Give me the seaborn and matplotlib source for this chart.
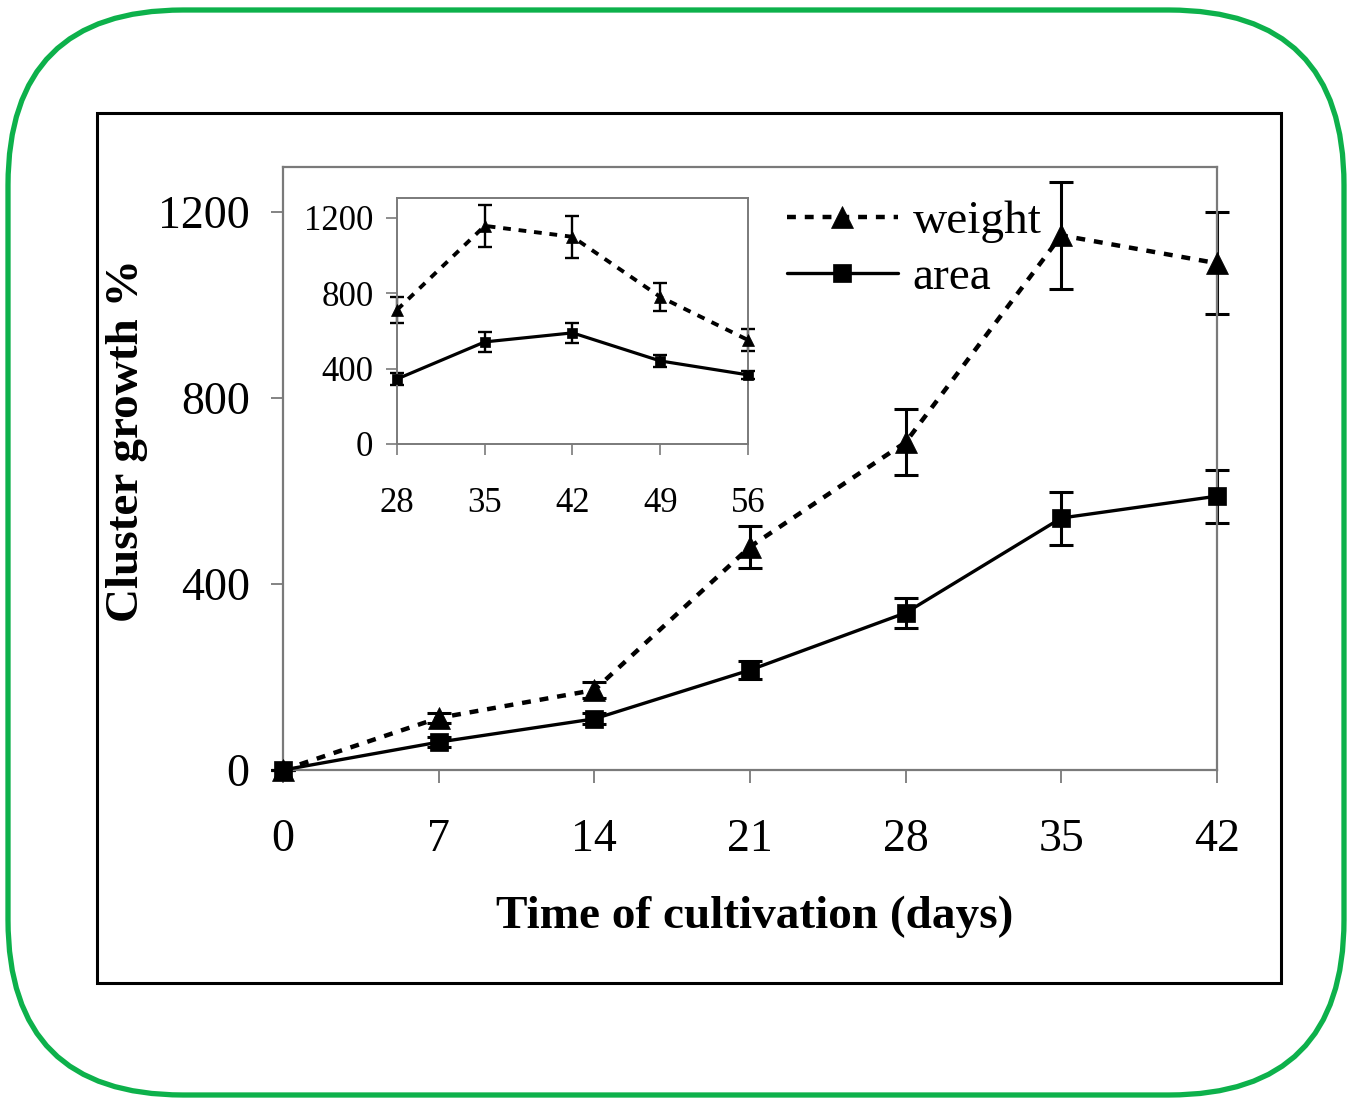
import numpy as np
import pandas as pd
import seaborn as sns
import matplotlib
matplotlib.use("Agg")
import matplotlib.pyplot as plt
from matplotlib.patches import FancyBboxPatch, Rectangle

# ---------------- data ----------------
days = [0, 7, 14, 21, 28, 35, 42]
weight = [0, 112, 172, 480, 705, 1150, 1090]
weight_err = [0, 10, 18, 45, 71, 115, 110]
area = [0, 60, 110, 215, 338, 542, 589]
area_err = [0, 10, 12, 20, 32, 57, 57]

inset_days = [28, 35, 42, 49, 56]
inset_weight = [712, 1158, 1100, 781, 552]
inset_weight_err = [70, 112, 110, 75, 58]
inset_area = [345, 542, 590, 441, 367]
inset_area_err = [30, 55, 55, 30, 22]

x_ticks = [0, 7, 14, 21, 28, 35, 42]
y_ticks = [0, 400, 800, 1200]
inset_x_ticks = [28, 35, 42, 49, 56]
inset_y_ticks = [0, 400, 800, 1200]

xlabel = "Time of cultivation (days)"
ylabel = "Cluster growth %"
series_names = ["weight", "area"]

# ---------------- style ----------------
sns.set_style("white")
plt.rcParams["font.family"] = ["Liberation Serif", "DejaVu Serif"]
plt.rcParams["text.color"] = "black"
plt.rcParams["axes.labelcolor"] = "black"
plt.rcParams["xtick.color"] = "black"
plt.rcParams["ytick.color"] = "black"

W, H, DPI = 1348, 1099, 100
fig = plt.figure(figsize=(W / DPI, H / DPI), dpi=DPI)

# green rounded frame
fig.patches.append(FancyBboxPatch((8 / DPI, 4 / DPI), (1344 - 8) / DPI, (1095 - 10) / DPI,
                                  boxstyle="round,pad=0,rounding_size=1.75",
                                  transform=fig.dpi_scale_trans, fill=False,
                                  ec="#0DB14B", lw=3.8, zorder=0))
# black frame
fig.patches.append(Rectangle((97 / DPI, (H - 983) / DPI), (1281 - 97) / DPI, (983 - 113) / DPI,
                             transform=fig.dpi_scale_trans, fill=False,
                             ec="black", lw=2.2, zorder=0))

spine_col = "#7a7a7a"
dash = (0, (2, 2))


def no_clip(container):
    for art in container.get_children():
        art.set_clip_on(False)


# ---------------- main axes ----------------
ax = fig.add_axes([283 / W, 1 - 770 / H, (1217 - 283) / W, (770 - 167) / H])
ax.set_facecolor("none")

no_clip(ax.errorbar(days, weight, yerr=weight_err, fmt="none", ecolor="black",
                    elinewidth=2.2, capsize=8.5, capthick=2.2, zorder=2))
no_clip(ax.errorbar(days, area, yerr=area_err, fmt="none", ecolor="black",
                    elinewidth=2.2, capsize=8.5, capthick=2.2, zorder=2))
sns.lineplot(x=days, y=weight, ax=ax, color="black", lw=3.2, linestyle=dash,
             marker="^", markersize=16, markeredgecolor="black",
             markeredgewidth=0.5, label=series_names[0], zorder=3, clip_on=False)
sns.lineplot(x=days, y=area, ax=ax, color="black", lw=2.4, linestyle="-",
             marker="s", markersize=12.5, markeredgecolor="black",
             markeredgewidth=0.5, label=series_names[1], zorder=4, clip_on=False)

ax.set_xlim(0, 42)
ax.set_ylim(0, 1297)
ax.set_xticks(x_ticks)
ax.set_yticks(y_ticks)
ax.tick_params(axis="both", direction="out", length=9, width=1.3, color=spine_col,
               labelsize=33, labelcolor="black")
ax.tick_params(axis="x", pad=26)
ax.tick_params(axis="y", pad=15)
ax.tick_params(bottom=True, left=True)
for s in ax.spines.values():
    s.set_color(spine_col)
    s.set_linewidth(1.6)

ax.set_xlabel(xlabel, fontsize=34, fontweight="bold")
ax.set_ylabel(ylabel, fontsize=34, fontweight="bold")
ax.xaxis.set_label_coords(0.505, -0.243)
ax.xaxis.label.set_va("center")
ax.yaxis.set_label_coords(-0.167, 0.547)
ax.yaxis.label.set_va("center")

leg = ax.legend(loc="upper left", bbox_to_anchor=((787 - 283) / 934, (770 - 200) / 603),
                frameon=False, fontsize=34, handlelength=2.34, handletextpad=0.32,
                labelspacing=0.28, borderpad=0, borderaxespad=0)

# ---------------- inset axes ----------------
ins = fig.add_axes([397 / W, 1 - 444 / H, (748 - 397) / W, (444 - 198) / H])
ins.set_facecolor("white")
no_clip(ins.errorbar(inset_days, inset_weight, yerr=inset_weight_err, fmt="none",
                     ecolor="black", elinewidth=1.7, capsize=5, capthick=1.7, zorder=2))
no_clip(ins.errorbar(inset_days, inset_area, yerr=inset_area_err, fmt="none",
                     ecolor="black", elinewidth=1.7, capsize=5, capthick=1.7, zorder=2))
sns.lineplot(x=inset_days, y=inset_weight, ax=ins, color="black", lw=2.8, linestyle=dash,
             marker="^", markersize=8.5, markeredgecolor="black", markeredgewidth=0.5,
             zorder=3, clip_on=False)
sns.lineplot(x=inset_days, y=inset_area, ax=ins, color="black", lw=2.3, linestyle="-",
             marker="s", markersize=7, markeredgecolor="black", markeredgewidth=0.5,
             zorder=4, clip_on=False)
ins.set_xlim(28, 56)
ins.set_ylim(0, 1306)
ins.set_xticks(inset_x_ticks)
ins.set_yticks(inset_y_ticks)
ins.tick_params(axis="both", direction="out", length=8, width=1.2, color=spine_col,
                labelsize=25, labelcolor="black")
ins.tick_params(axis="x", pad=23)
ins.tick_params(axis="y", pad=9)
ins.tick_params(bottom=True, left=True)
for s in ins.spines.values():
    s.set_color(spine_col)
    s.set_linewidth(1.4)
ins.set_xlabel("")
ins.set_ylabel("")
if ins.get_legend() is not None:
    ins.get_legend().remove()

fig.savefig("out.png", dpi=DPI, facecolor="white")
